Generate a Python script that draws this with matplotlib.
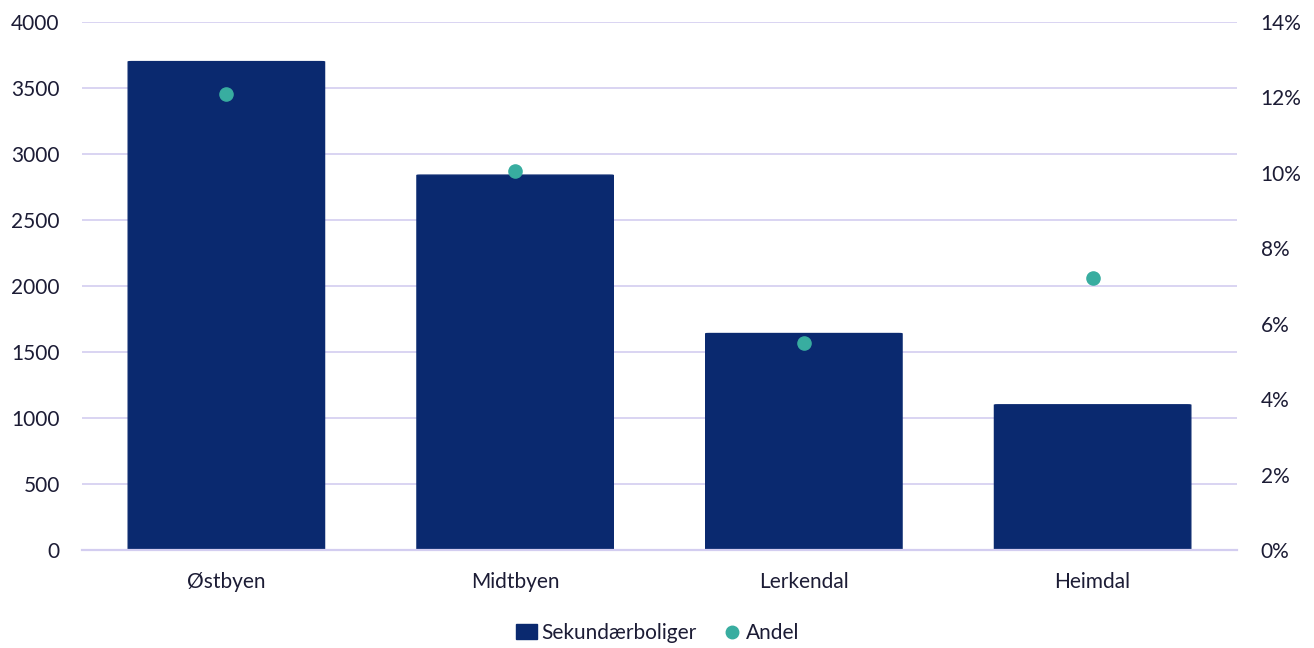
import matplotlib.pyplot as plt
from matplotlib.patches import FancyBboxPatch
from matplotlib.ticker import FuncFormatter

plt.rcParams['font.family'] = ['Lato', 'DejaVu Sans']

bydeler = ["Østbyen", "Midtbyen", "Lerkendal", "Heimdal"]
sekundaerboliger = [3700, 2840, 1640, 1100]
andel = [12.1, 10.05, 5.5, 7.2]

bar_color = "#0a296f"
dot_color = "#38ada0"
grid_color = "#d3cdf0"
text_color = "#1c1c35"

fig = plt.figure(figsize=(13.14, 6.48), dpi=100)
ax = fig.add_axes([82 / 1314, 1 - 550 / 648, 1155 / 1314, 528 / 648])
ax2 = ax.twinx()

x = range(len(bydeler))
width = 0.68
bars = ax.bar(x, sekundaerboliger, width=width, color=bar_color, zorder=2,
              label="Sekundærboliger")

# round the bar corners slightly
for b in bars:
    b.set_visible(False)
    p = FancyBboxPatch((b.get_x(), -15), b.get_width(), b.get_height() + 15,
                       boxstyle="round,pad=0,rounding_size=0.012",
                       mutation_aspect=200, color=bar_color, zorder=2)
    ax.add_patch(p)

ax.set_ylim(0, 4000)
ax.set_yticks(range(0, 4001, 500))
ax.set_xlim(-0.5, 3.5)
ax.set_xticks(list(x))
ax.set_xticklabels(bydeler)
ax.grid(axis="y", color=grid_color, linewidth=1.2, zorder=0)
ax.set_axisbelow(True)
ax.axhline(0, color=grid_color, linewidth=1.6, zorder=3, clip_on=False)

ax2.scatter(list(x), andel, s=90, color=dot_color, zorder=4, label="Andel")
ax2.set_ylim(0, 14)
ax2.set_yticks(range(0, 15, 2))
ax2.yaxis.set_major_formatter(FuncFormatter(lambda v, _: f"{v:.0f}%"))

for a in (ax, ax2):
    for s in a.spines.values():
        s.set_visible(False)
    a.tick_params(length=0, labelsize=15, labelcolor=text_color)
ax.tick_params(axis="y", pad=16)
ax.tick_params(axis="x", pad=16)
ax2.tick_params(axis="y", pad=17)
ax2.patch.set_visible(False)

h1 = plt.Rectangle((0, 0), 1, 1, color=bar_color)
h2 = plt.Line2D([], [], marker="o", linestyle="", color=dot_color, markersize=9)
fig.legend([h1, h2], ["Sekundærboliger", "Andel"], loc="center",
           bbox_to_anchor=(658 / 1314, 1 - 633 / 648), ncol=2, frameon=False,
           fontsize=15, handlelength=1.0, handletextpad=0.2, columnspacing=1.2,
           labelcolor=text_color)

fig.savefig("out.png", dpi=100)
